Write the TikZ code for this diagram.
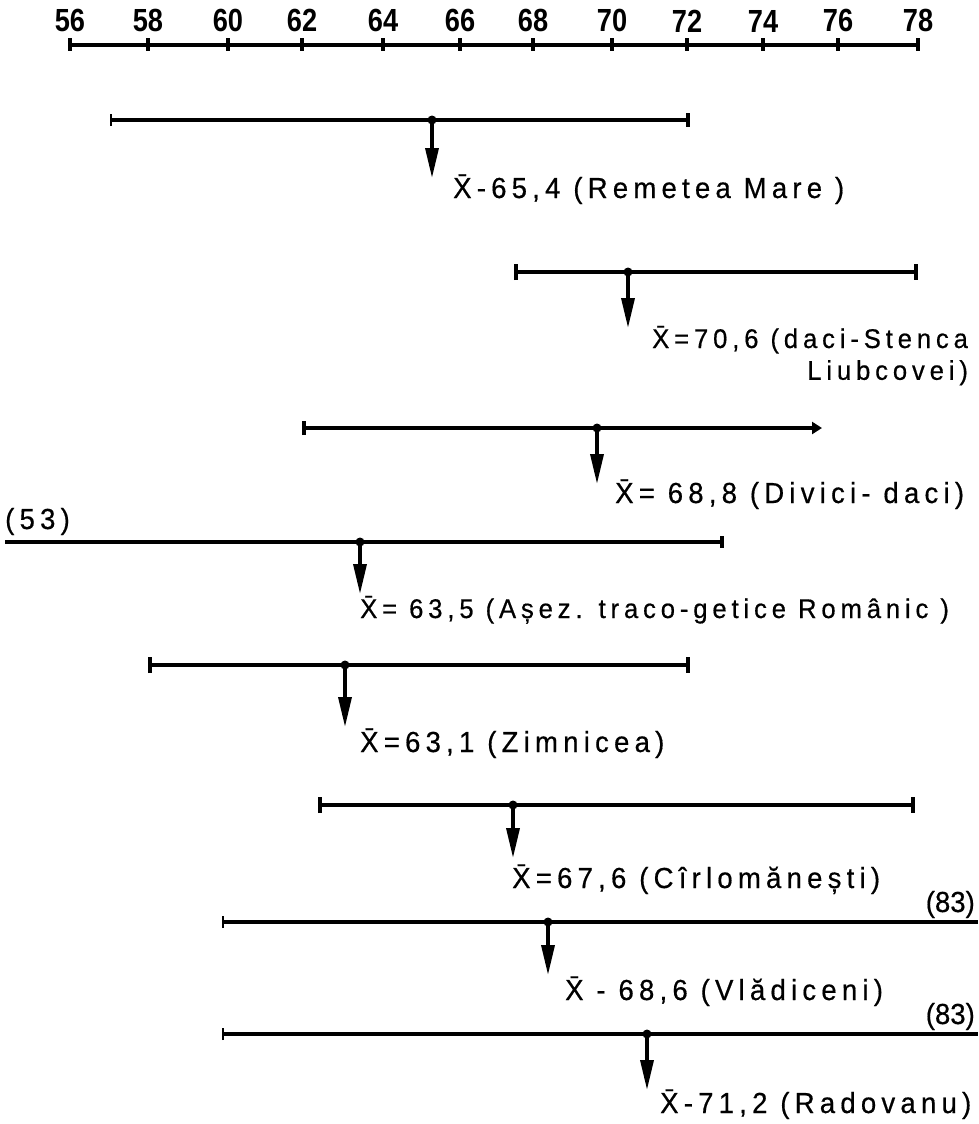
\documentclass[tikz,border=0pt]{standalone}
\usepackage{fontspec}
\setmainfont{Liberation Sans}[FakeStretch=0.95,LetterSpace=18,FakeBold=0.5]
\newfontfamily\tightfont{Liberation Sans}[FakeStretch=0.95,FakeBold=0.5]
\newfontfamily\axisfont{Liberation Sans Bold}[FakeStretch=0.85]
\usetikzlibrary{arrows.meta,positioning}

\begin{document}
\begin{tikzpicture}[x=1pt,y=-1pt,
		every node/.style={inner sep=0pt},
		axis/.style={line width=4pt},
		tk/.style={rectangle,fill,minimum width=3.5pt,minimum height=13pt},
		num/.style={font=\axisfont\fontsize{32}{36}\selectfont},
		spanline/.style={line width=3.6pt},
		mean/.style={line width=3.5pt,-{Triangle[length=30pt,width=13pt]}},
		dot/.style={circle,fill,minimum size=9pt},
		lbl/.style={font=\fontsize{29}{32}\selectfont},
		cnt/.style={font=\tightfont\fontsize{29}{32}\selectfont},
		bothbars/.style={{Bar[width=16pt]}-{Bar[width=16pt]}}]
			\useasboundingbox (0,0) rectangle (978,1124);
			% scale 56 ... 78
			\node[tk] (k56) at (70,45) {};
			\node[tk] (k58) at (148,45) {};
			\node[tk] (k60) at (228,45) {};
			\node[tk] (k62) at (302,45) {};
			\node[tk] (k64) at (383,45) {};
			\node[tk] (k66) at (460,45) {};
			\node[tk] (k68) at (533,45) {};
			\node[tk] (k70) at (612,45) {};
			\node[tk] (k72) at (687,45) {};
			\node[tk] (k74) at (763,45) {};
			\node[tk] (k76) at (838,45) {};
			\node[tk] (k78) at (918,45) {};
			\draw [axis] (k56.center) -- (k78.center);
			\node[num,above=6pt of k56] {56};
			\node[num,above=6pt of k58] {58};
			\node[num,above=6pt of k60] {60};
			\node[num,above=6pt of k62] {62};
			\node[num,above=6pt of k64] {64};
			\node[num,above=6pt of k66] {66};
			\node[num,above=6pt of k68] {68};
			\node[num,above=6pt of k70] {70};
			\node[num,above=6pt of k72] {72};
			\node[num,above=6pt of k74] {74};
			\node[num,above=6pt of k76] {76};
			\node[num,above=6pt of k78] {78};
			% Remetea Mare
			\coordinate (a1) at (110,120);
			\coordinate (b1) at (690,120);
			\node[dot] (d1) at (432,120) {};
			\coordinate[below=58pt of d1.center] (t1);
			\draw [spanline,{Bar[width=12pt,line width=2pt]}-{Bar[width=14pt]}] (a1) -- (b1);
			\draw [mean] (d1.center) -- (t1);
			\node[lbl,below right=20pt and 21pt of t1,anchor=base west] (l1) {\={X}-65,4 (Remetea Mare )};
			% daci - Stenca Liubcovei
			\coordinate (a2) at (514,272);
			\coordinate (b2) at (918,272);
			\node[dot] (d2) at (628,272) {};
			\coordinate[below=56pt of d2.center] (t2);
			\draw [spanline,bothbars] (a2) -- (b2);
			\draw [mean] (d2.center) -- (t2);
			\node[lbl,font=\fontsize{27}{32}\selectfont,below right=20pt and 24pt of t2,anchor=base west] (l2) {\={X}=70,6 (daci-Stenca};
			\node[lbl,font=\fontsize{27}{32}\selectfont,below=26pt of l2.south east,anchor=base east] (l2b) {Liubcovei)};
			% Divici - daci
			\coordinate (a3) at (302,428);
			\coordinate (b3) at (822,428);
			\node[dot] (d3) at (597,428) {};
			\coordinate[below=56pt of d3.center] (t3);
			\draw [spanline,{Bar[width=14pt]}-{Triangle[length=10pt,width=12pt]}] (a3) -- (b3);
			\draw [mean] (d3.center) -- (t3);
			\node[lbl,below right=19pt and 18pt of t3,anchor=base west] (l3) {\={X}= 68,8 (Divici- daci)};
			% Asezari traco-getice
			\coordinate (a4) at (5,542);
			\coordinate (b4) at (724,542);
			\node[dot] (d4) at (360,542) {};
			\coordinate[below=52pt of d4.center] (t4);
			\draw [spanline,-{Bar[width=12pt]}] (a4) -- (b4);
			\draw [mean] (d4.center) -- (t4);
			\node[lbl,font=\fontsize{27}{32}\selectfont,below right=24pt and 0pt of t4,anchor=base west] (l4) {\={X}= 63,5 (Așez. traco-getice Românic )};
			\node[lbl,above right=13pt and 0pt of a4,anchor=base west] (n4) {(53)};
			% Zimnicea
			\coordinate (a5) at (148,665);
			\coordinate (b5) at (690,665);
			\node[dot] (d5) at (345,665) {};
			\coordinate[below=62pt of d5.center] (t5);
			\draw [spanline,bothbars] (a5) -- (b5);
			\draw [mean] (d5.center) -- (t5);
			\node[lbl,below right=25pt and 15pt of t5,anchor=base west] (l5) {\={X}=63,1 (Zimnicea)};
			% Cirlomanesti
			\coordinate (a6) at (318,805);
			\coordinate (b6) at (915,805);
			\node[dot] (d6) at (513,805) {};
			\coordinate[below=53pt of d6.center] (t6);
			\draw [spanline,bothbars] (a6) -- (b6);
			\draw [mean] (d6.center) -- (t6);
			\node[lbl,below right=30pt and -1pt of t6,anchor=base west] (l6) {\={X}=67,6 (Cîrlomănești)};
			% Vladiceni
			\coordinate (a7) at (222,922);
			\coordinate (b7) at (978,922);
			\node[dot] (d7) at (548,922) {};
			\coordinate[below=53pt of d7.center] (t7);
			\draw [spanline,{Bar[width=12pt,line width=2pt]}-] (a7) -- (b7);
			\draw [mean] (d7.center) -- (t7);
			\node[lbl,below right=25pt and 17pt of t7,anchor=base west] (l7) {\={X} - 68,6 (Vlădiceni)};
			\node[cnt,above left=10pt and 3pt of b7,anchor=base east] (n7) {(83)};
			% Radovanu
			\coordinate (a8) at (222,1034);
			\coordinate (b8) at (978,1034);
			\node[dot] (d8) at (647,1034) {};
			\coordinate[below=56pt of d8.center] (t8);
			\draw [spanline,{Bar[width=12pt,line width=2pt]}-] (a8) -- (b8);
			\draw [mean] (d8.center) -- (t8);
			\node[lbl,below right=23pt and 13pt of t8,anchor=base west] (l8) {\={X}-71,2 (Radovanu)};
			\node[cnt,above left=10pt and 3pt of b8,anchor=base east] (n8) {(83)};
		\end{tikzpicture}
\end{document}
